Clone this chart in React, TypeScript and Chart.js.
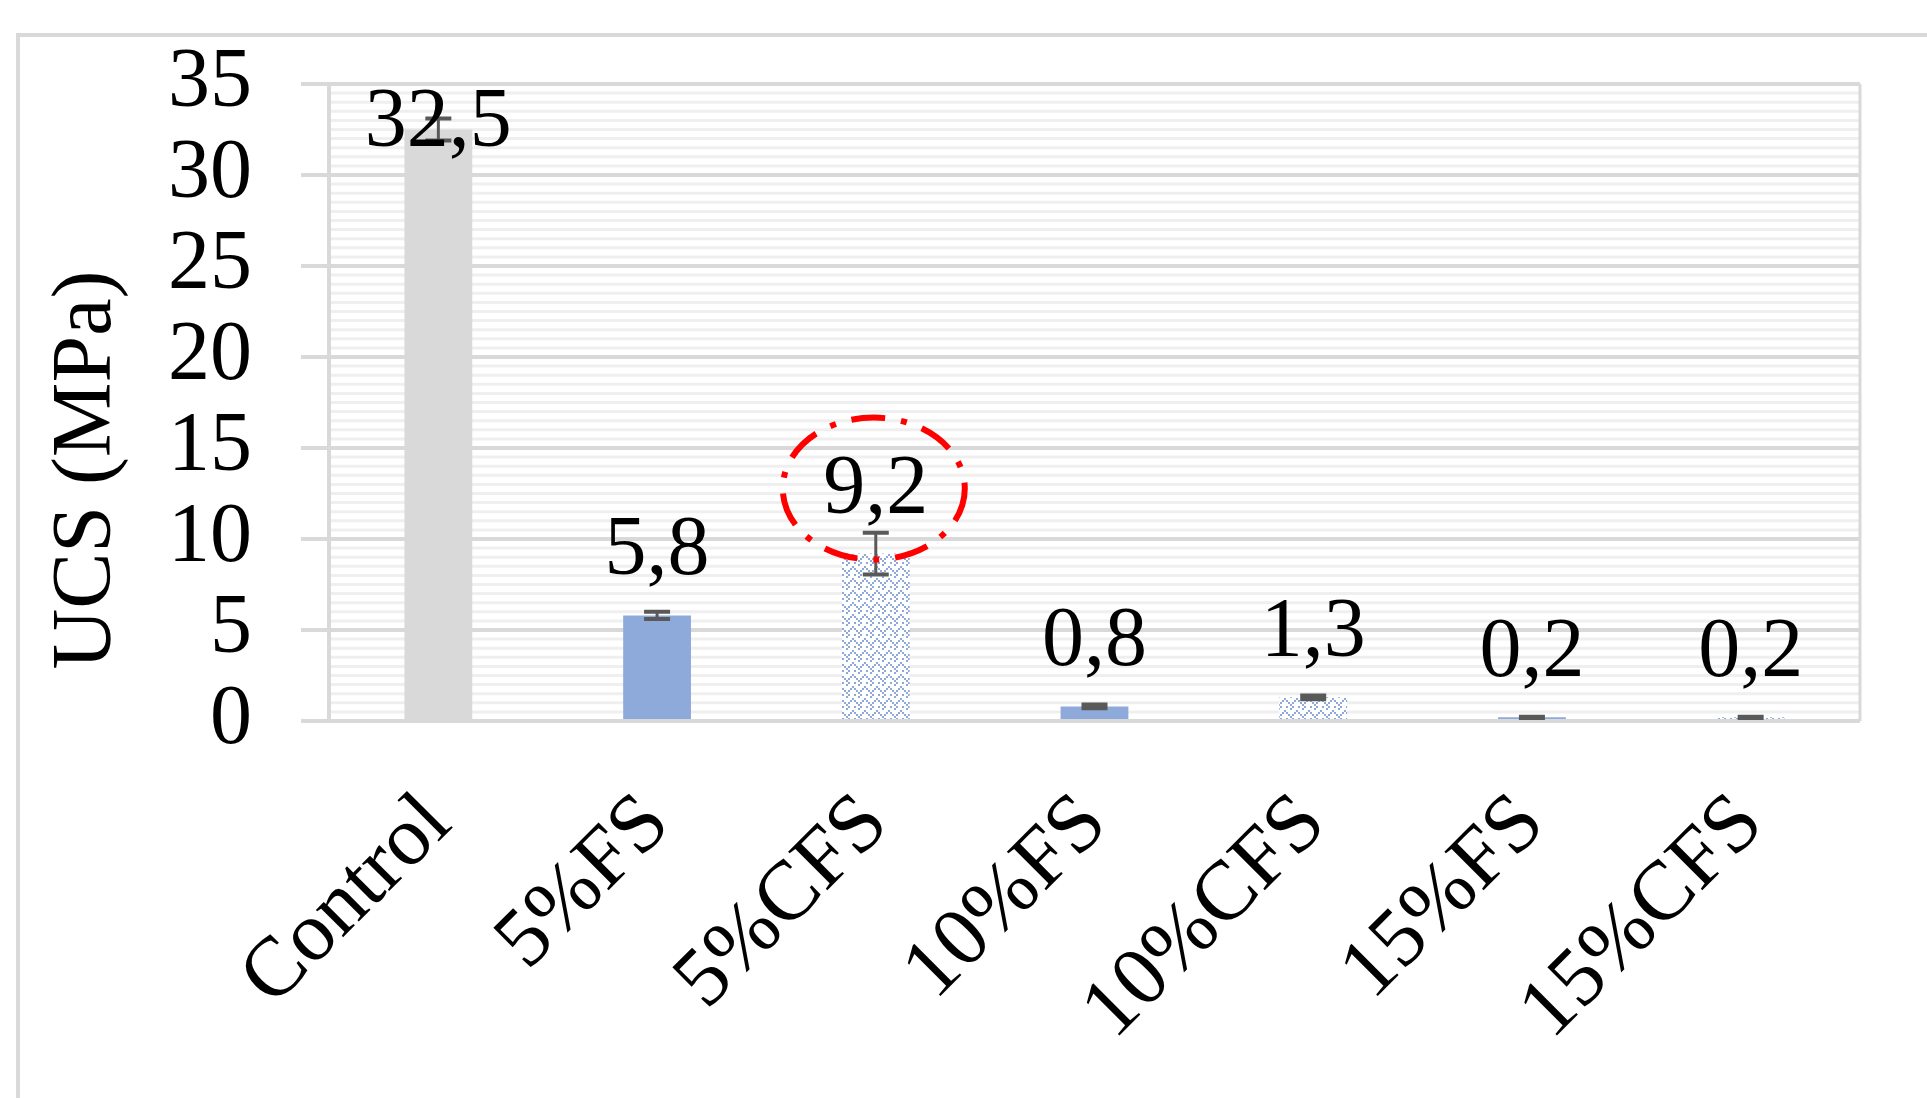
import React, { useEffect, useRef } from "react";
import { Chart, registerables } from "chart.js";

Chart.register(...registerables);

// ---- data ----
const categories = ["Control", "5%FS", "5%CFS", "10%FS", "10%CFS", "15%FS", "15%CFS"];
const ucsValues = [32.5, 5.8, 9.2, 0.8, 1.3, 0.2, 0.2];
const ucsErrors = [0.6, 0.2, 1.15, 0.1, 0.1, 0.03, 0.03];
const barKinds = ["gray", "solid", "pattern", "solid", "pattern", "solid", "pattern"];
const yMin = 0;
const yMax = 35;
const yMajorStep = 5;
const yMinorStep = 0.5;
const yTitle = "UCS (MPa)";
const highlightedIndex = 2;

const FONT = "'Liberation Serif', 'Times New Roman', serif";
const GRAY = "#d9d9d9";
const BLUE = "#8eaadb";

function makeWavePattern(ctx: CanvasRenderingContext2D) {
  const w = 12;
  const h = 12;
  const c = document.createElement("canvas");
  c.width = w;
  c.height = h;
  const p = c.getContext("2d")!;
  p.fillStyle = "#ffffff";
  p.fillRect(0, 0, w, h);
  p.fillStyle = BLUE;
  const pts: [number, number][] = [
    [0, 2], [2, 4], [4, 6], [6, 8], [8, 6], [10, 4],
    [6, 0], [8, 10], [2, 10],
  ];
  pts.forEach(([x, yy]) => p.fillRect(x, yy, 2, 2));
  return ctx.createPattern(c, "repeat")!;
}

const fmt = (v: number) => v.toFixed(1).replace(".", ",");

const decorPlugin = {
  id: "decor",
  beforeDraw(chart: any) {
    const { ctx, chartArea, scales } = chart;
    const y = scales.y;
    ctx.save();
    ctx.strokeStyle = "#efefef";
    ctx.lineWidth = 3;
    const n = Math.round((yMax - yMin) / yMinorStep);
    const per = Math.round(yMajorStep / yMinorStep);
    for (let i = 1; i < n; i++) {
      if (i % per === 0) continue;
      const py = y.getPixelForValue(yMin + i * yMinorStep);
      ctx.beginPath();
      ctx.moveTo(chartArea.left, py);
      ctx.lineTo(chartArea.right, py);
      ctx.stroke();
    }
    ctx.restore();
  },
  beforeDatasetsDraw(chart: any) {
    const { ctx, chartArea } = chart;
    ctx.save();
    ctx.strokeStyle = GRAY;
    ctx.lineWidth = 3;
    ctx.beginPath();
    ctx.moveTo(chartArea.right, chartArea.top);
    ctx.lineTo(chartArea.right, chartArea.bottom);
    ctx.stroke();
    ctx.restore();
  },
  afterDatasetsDraw(chart: any) {
    const { ctx, chartArea, scales } = chart;
    const y = scales.y;
    const meta = chart.getDatasetMeta(0);
    ctx.save();
    // error bars
    ctx.strokeStyle = "#595959";
    meta.data.forEach((bar: any, i: number) => {
      const v = ucsValues[i];
      const e = ucsErrors[i];
      const yHi = y.getPixelForValue(v + e);
      const yLo = y.getPixelForValue(v - e);
      ctx.lineWidth = 3;
      ctx.beginPath();
      ctx.moveTo(bar.x, yHi);
      ctx.lineTo(bar.x, yLo);
      ctx.stroke();
      ctx.lineWidth = 4;
      ctx.beginPath();
      ctx.moveTo(bar.x - 13, yHi);
      ctx.lineTo(bar.x + 13, yHi);
      ctx.moveTo(bar.x - 13, yLo);
      ctx.lineTo(bar.x + 13, yLo);
      ctx.stroke();
    });
    // data labels
    ctx.fillStyle = "#000000";
    ctx.font = `84px ${FONT}`;
    ctx.textAlign = "center";
    ctx.textBaseline = "alphabetic";
    meta.data.forEach((bar: any, i: number) => {
      const base = Math.max(bar.y - 41, chartArea.top + 62);
      ctx.fillText(fmt(ucsValues[i]), bar.x, base);
      if (i === highlightedIndex) {
        ctx.save();
        ctx.strokeStyle = "#ff0000";
        ctx.lineWidth = 6;
        ctx.setLineDash([34, 16, 6, 16]);
        ctx.beginPath();
        ctx.ellipse(bar.x - 2, base - 24, 91, 71, 0, 0, Math.PI * 2);
        ctx.stroke();
        ctx.restore();
      }
    });
    ctx.restore();
  },
  afterDraw(chart: any) {
    const { ctx } = chart;
    ctx.save();
    ctx.fillStyle = "#000000";
    ctx.font = `84px ${FONT}`;
    ctx.textAlign = "center";
    ctx.textBaseline = "middle";
    ctx.translate(88, 470);
    ctx.rotate(-Math.PI / 2);
    ctx.fillText(yTitle, 0, 0);
    ctx.restore();
  },
};

export default function App() {
  const ref = useRef<HTMLCanvasElement>(null);
  useEffect(() => {
    const canvas = ref.current!;
    const ctx = canvas.getContext("2d")!;
    const pattern = makeWavePattern(ctx);
    const colors = barKinds.map((k) => (k === "gray" ? GRAY : k === "solid" ? BLUE : pattern));
    const chart = new Chart(canvas, {
      type: "bar",
      data: {
        labels: categories,
        datasets: [
          {
            data: ucsValues,
            backgroundColor: colors as any,
            borderWidth: 0,
            categoryPercentage: 1,
            barPercentage: 0.31,
          },
        ],
      },
      options: {
        responsive: false,
        animation: false,
        devicePixelRatio: 1,
        layout: { padding: { top: 84, right: 67, left: 0, bottom: 0 } },
        plugins: { legend: { display: false }, tooltip: { enabled: false }, title: { display: false } },
        scales: {
          x: {
            type: "category",
            offset: true,
            grid: { display: false },
            border: { display: false },
            ticks: {
              color: "#000000",
              font: { family: FONT, size: 84 },
              maxRotation: 45,
              minRotation: 45,
              autoSkip: false,
              padding: 46,
            },
            afterFit: (s: any) => {
              s.height = 377;
              s.paddingLeft = 0;
              s.paddingRight = 0;
            },
          },
          y: {
            min: yMin,
            max: yMax,
            ticks: {
              stepSize: yMajorStep,
              autoSkip: false,
              color: "#000000",
              font: { family: FONT, size: 84 },
              padding: 49,
            },
            grid: { color: GRAY, lineWidth: 4, tickLength: 28, drawTicks: true },
            border: { display: true, color: GRAY, width: 4 },
            afterFit: (s: any) => {
              s.width = 329;
              s.paddingTop = 0;
              s.paddingBottom = 0;
            },
          },
        },
      },
      plugins: [decorPlugin],
    });
    return () => chart.destroy();
  }, []);

  return (
    <div
      style={{
        position: "fixed",
        left: 0,
        top: 0,
        width: 1927,
        height: 1098,
        overflow: "hidden",
        background: "#ffffff",
      }}
    >
      <div
        style={{
          position: "absolute",
          left: 16,
          top: 33,
          width: 2000,
          height: 1200,
          borderLeft: `4px solid ${GRAY}`,
          borderTop: `4px solid ${GRAY}`,
        }}
      />
      <canvas
        ref={ref}
        width={1927}
        height={1098}
        style={{ position: "absolute", left: 0, top: 0, width: 1927, height: 1098 }}
      />
    </div>
  );
}
